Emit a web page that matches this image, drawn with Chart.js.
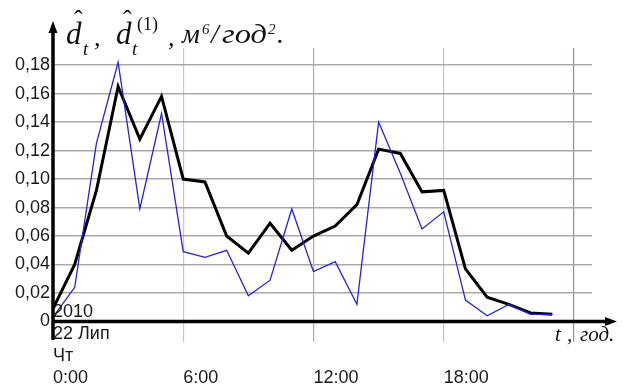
<!DOCTYPE html>
<html>
<head>
<meta charset="utf-8">
<script src="https://cdn.jsdelivr.net/npm/chart.js@4/dist/chart.umd.min.js"></script>
<style>
html,body{margin:0;padding:0;background:#fff;}
#wrap{width:624px;height:386px;position:relative;}
</style>
</head>
<body>
<div id="wrap"><canvas id="c"></canvas></div>
<script>
// ---- data ----
const hours = [0,1,2,3,4,5,6,7,8,9,10,11,12,13,14,15,16,17,18,19,20,21,22,23];
const smoothed = [0.009,0.040,0.092,0.165,0.128,0.158,0.100,0.098,0.060,0.048,0.069,0.050,0.060,0.067,0.082,0.121,0.118,0.091,0.092,0.037,0.017,0.012,0.006,0.005];
const raw = [0.003,0.024,0.125,0.182,0.079,0.146,0.049,0.045,0.050,0.018,0.029,0.079,0.035,0.042,0.012,0.140,0.104,0.065,0.077,0.015,0.004,0.012,0.005,0.005];
const yTickValues = [0,0.02,0.04,0.06,0.08,0.10,0.12,0.14,0.16,0.18];
const yTickLabels = ['0','0,02','0,04','0,06','0,08','0,10','0,12','0,14','0,16','0,18'];
const xTickValues = [0,6,12,18,24];
const xTickLabels = [['Чт','0:00'],['','6:00'],['','12:00'],['','18:00'],''];
const xDateLines = ['2010','22 Лип'];
const xGridColors = ['rgba(0,0,0,0)','#c4c4c4','#c9a0a0','#c4c4c4','#8a8ac4'];

const toPts = arr => arr.map((v,i)=>({x:hours[i],y:v}));
const sansFont = '18px "Liberation Sans", Arial, sans-serif';

const axesPlugin = {
  id:'axesPlugin',
  afterDatasetsDraw(chart){
    const {ctx, chartArea, scales} = chart;
    const x0 = scales.x.getPixelForValue(0);
    const y0 = scales.y.getPixelForValue(0);
    ctx.save();
    ctx.strokeStyle = '#000';
    ctx.fillStyle = '#000';
    ctx.lineWidth = 3.5;
    // y axis
    ctx.beginPath();
    ctx.moveTo(x0, chartArea.bottom - 2);
    ctx.lineTo(x0, chartArea.top - 18);
    ctx.stroke();
    ctx.beginPath();
    ctx.moveTo(x0, chartArea.top - 27);
    ctx.lineTo(x0 - 4.5, chartArea.top - 15);
    ctx.lineTo(x0 + 4.5, chartArea.top - 15);
    ctx.closePath();
    ctx.fill();
    // x axis
    ctx.beginPath();
    ctx.moveTo(x0, y0);
    ctx.lineTo(chartArea.right + 16, y0);
    ctx.stroke();
    ctx.beginPath();
    ctx.moveTo(chartArea.right + 25, y0);
    ctx.lineTo(chartArea.right + 13, y0 - 4.5);
    ctx.lineTo(chartArea.right + 13, y0 + 4.5);
    ctx.closePath();
    ctx.fill();

    // date lines of the first x tick label
    ctx.fillStyle = '#1a1a1a';
    ctx.font = sansFont;
    ctx.textAlign = 'left';
    ctx.textBaseline = 'middle';
    const xl = scales.x.getPixelForValue(xTickValues[0]);
    xDateLines.forEach((t,i)=>ctx.fillText(t, xl, chartArea.bottom - 29.5 + i*22));

    // y title
    ctx.fillStyle = '#111';
    ctx.textBaseline = 'alphabetic';
    const serifI = s => 'italic ' + s + 'px "Liberation Serif", "DejaVu Serif", serif';
    const serif = s => s + 'px "Liberation Serif", "DejaVu Serif", serif';
    ctx.font = serifI(31); ctx.fillText('d', 66, 44);
    ctx.font = serif(26); ctx.fillText('ˆ', 74, 28);
    ctx.font = serifI(19); ctx.fillText('t', 83, 55);
    ctx.font = serifI(26); ctx.fillText(',', 94, 46);
    ctx.font = serifI(31); ctx.fillText('d', 116, 44);
    ctx.font = serif(26); ctx.fillText('ˆ', 123, 28);
    ctx.font = serifI(19); ctx.fillText('t', 132, 55);
    ctx.font = serif(18); ctx.fillText('(1)', 137, 30);
    ctx.font = serifI(26); ctx.fillText(',', 168, 46);
    ctx.font = serifI(28); ctx.fillText('м', 182, 43);
    ctx.font = serifI(15); ctx.fillText('6', 202, 34);
    ctx.font = serifI(28); ctx.fillText('/', 211, 43);
    ctx.font = serifI(28);
    const gw = ctx.measureText('год').width;
    ctx.save();
    ctx.translate(222, 43);
    ctx.scale(45/gw, 1);
    ctx.fillText('год', 0, 0);
    ctx.restore();
    ctx.font = serifI(15); ctx.fillText('2', 268, 34);
    ctx.font = serifI(28); ctx.fillText('.', 277, 43);

    // x title
    ctx.font = serifI(21);
    ctx.fillText('t', 555, 341);
    ctx.fillText(',', 567, 341);
    ctx.fillText('год.', 580, 341);
    ctx.restore();
  }
};

new Chart(document.getElementById('c'), {
  type:'line',
  data:{
    datasets:[
      {label:'raw', data:toPts(raw), borderColor:'#2525d6', borderWidth:1.3, pointRadius:0, tension:0, fill:false},
      {label:'smoothed', data:toPts(smoothed), borderColor:'#000', borderWidth:3, pointRadius:0, tension:0, fill:false}
    ]
  },
  options:{
    responsive:true,
    maintainAspectRatio:false,
    animation:false,
    devicePixelRatio:1,
    layout:{padding:{left:0,right:32,top:48,bottom:0}},
    plugins:{legend:{display:false}, tooltip:{enabled:false}},
    scales:{
      x:{
        type:'linear', min:0, max:24.83,
        afterBuildTicks: s => { s.ticks = xTickValues.map(v=>({value:v})); },
        afterFit: s => { s.height = 44; },
        border:{display:false},
        grid:{drawTicks:false, lineWidth:1.2, color: c => xGridColors[c.index]},
        ticks:{
          autoSkip:false, maxRotation:0, align:'start', padding:3.5,
          color:'#1a1a1a',
          font:{family:'"Liberation Sans", Arial, sans-serif', size:18, lineHeight:1.22},
          callback:(v,i)=>xTickLabels[i]
        }
      },
      y:{
        min:-0.0144, max:0.192,
        afterBuildTicks: s => { s.ticks = yTickValues.map(v=>({value:v})); },
        afterFit: s => { s.width = 53; },
        border:{display:false},
        grid:{drawTicks:false, lineWidth:1.6, color: c => c.index===0 ? 'rgba(0,0,0,0)' : '#a9a9a9'},
        ticks:{
          padding:3, color:'#1a1a1a',
          font:{family:'"Liberation Sans", Arial, sans-serif', size:18},
          callback:(v,i)=>yTickLabels[i]
        }
      }
    }
  },
  plugins:[axesPlugin]
});
</script>
</body>
</html>
